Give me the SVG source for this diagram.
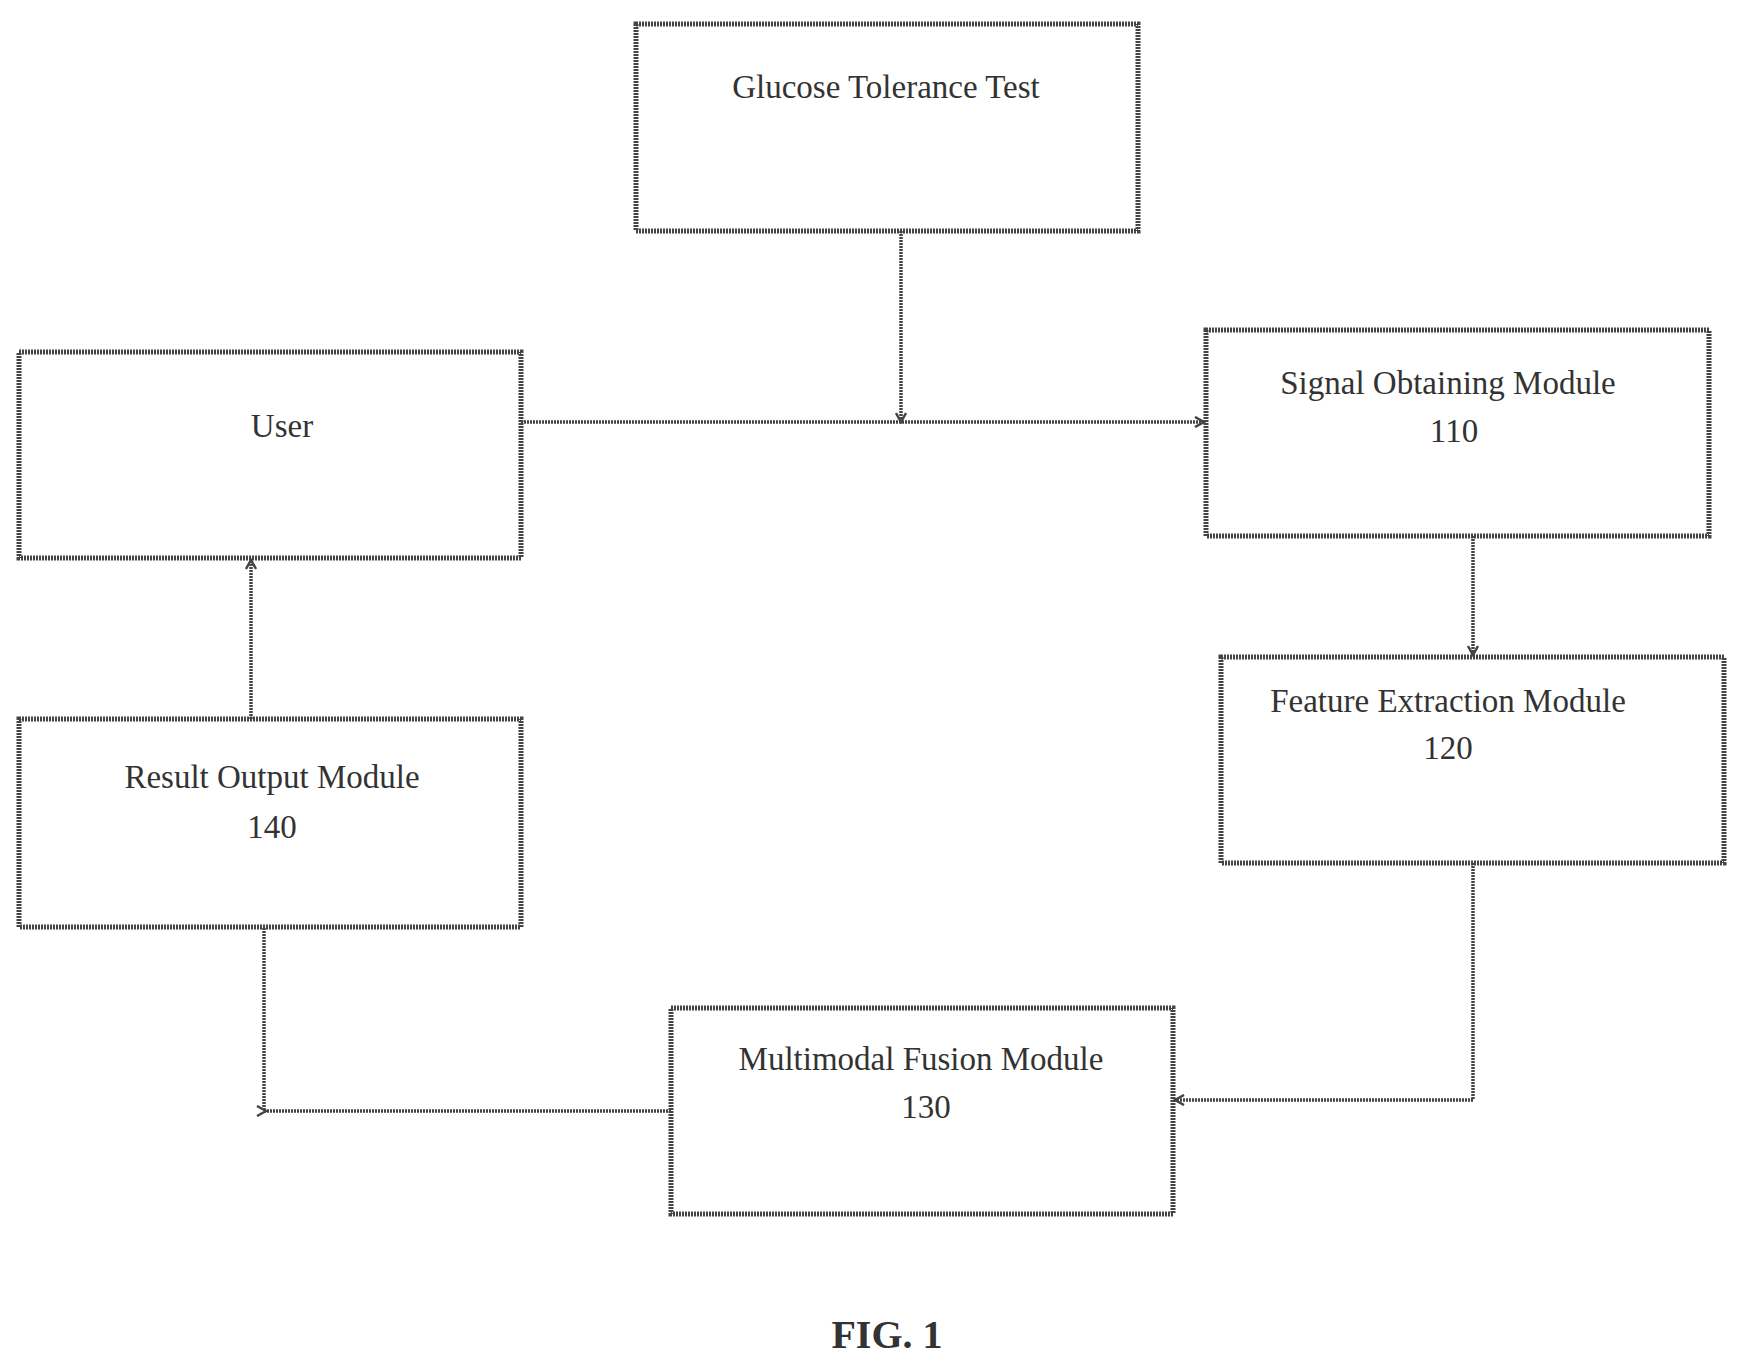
<svg xmlns="http://www.w3.org/2000/svg" width="1742" height="1366" viewBox="0 0 1742 1366">
<style>
.b{fill:#fff;stroke:#444;stroke-width:5;stroke-dasharray:2 1}
.t{font-family:"Liberation Serif",serif;font-size:33px;fill:#333;text-anchor:middle}
.c{fill:none;stroke:#444;stroke-width:3.5;stroke-dasharray:2 1}
</style>
<defs><marker id="a" markerWidth="12" markerHeight="12" refX="10" refY="6" orient="auto" markerUnits="userSpaceOnUse"><path d="M1,1 L10,6 L1,11" fill="none" stroke="#444" stroke-width="2.5"/></marker></defs>
<rect width="1742" height="1366" fill="#fff"/>
<g transform="translate(-4,0)">
<g id="glucose"><rect class="b" x="640" y="24" width="502" height="207"/><text class="t" x="890" y="98">Glucose Tolerance Test</text></g>
<g id="user"><rect class="b" x="23" y="352" width="502" height="206"/><text class="t" x="286" y="437">User</text></g>
<g id="signal"><rect class="b" x="1210" y="330" width="503" height="206"/><text class="t" x="1452" y="394">Signal Obtaining Module</text><text class="t" x="1458" y="442">110</text></g>
<g id="feature"><rect class="b" x="1225" y="657" width="503" height="206"/><text class="t" x="1452" y="712">Feature Extraction Module</text><text class="t" x="1452" y="759">120</text></g>
<g id="result"><rect class="b" x="23" y="719" width="502" height="208"/><text class="t" x="276" y="788">Result Output Module</text><text class="t" x="276" y="838">140</text></g>
<g id="fusion"><rect class="b" x="675" y="1008" width="502" height="206"/><text class="t" x="925" y="1070">Multimodal Fusion Module</text><text class="t" x="930" y="1118">130</text></g>
<text x="891" y="1348" style="font-family:'Liberation Serif',serif;font-size:40px;font-weight:bold;fill:#333;text-anchor:middle">FIG. 1</text>
<g id="connectors">
<path class="c" d="M905,231 V422" marker-end="url(#a)"/>
<path class="c" d="M525,422 H1208" marker-end="url(#a)"/>
<path class="c" d="M1477,536 V655" marker-end="url(#a)"/>
<path class="c" d="M1477,863 V1100 H1179" marker-end="url(#a)"/>
<path class="c" d="M675,1111 H268 V927"/>
<path class="c" d="M268,1111 H270" marker-end="url(#a)"/>
<path class="c" d="M255,719 V560" marker-end="url(#a)"/>
</g>
</g>
</svg>
